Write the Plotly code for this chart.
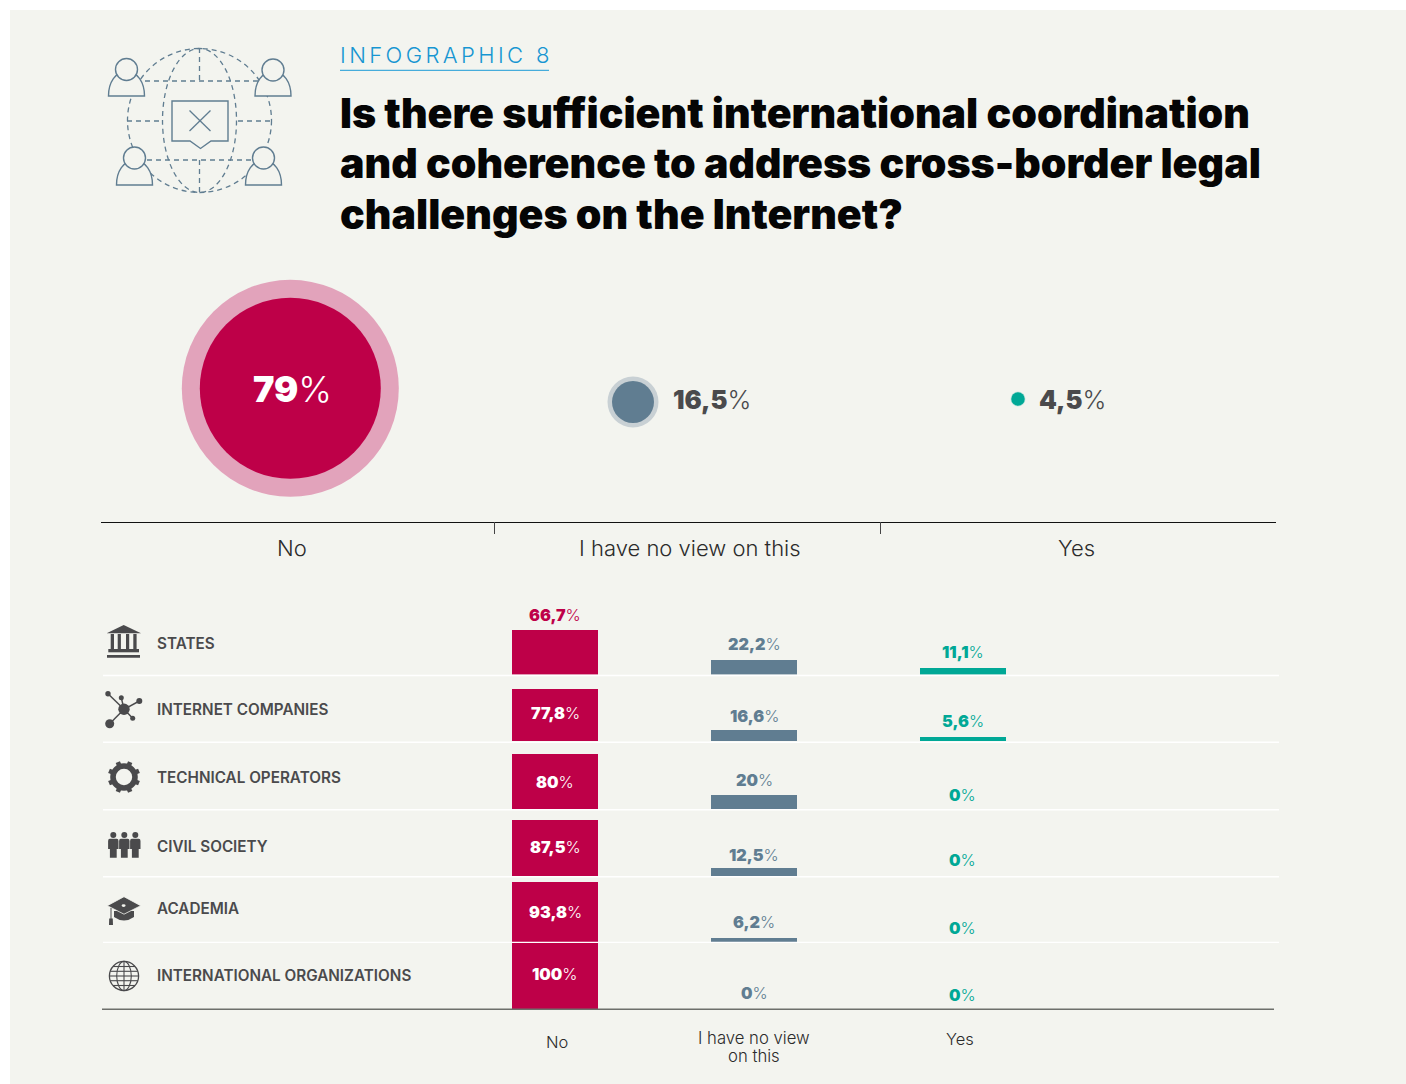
import numpy as np
import plotly.graph_objects as go

# ---- data -------------------------------------------------------------
answers = ["No", "I have no view on this", "Yes"]
overall = [79, 16.5, 4.5]
overall_labels = ["79", "16,5", "4,5"]
stakeholders = ["STATES", "INTERNET COMPANIES", "TECHNICAL OPERATORS",
                "CIVIL SOCIETY", "ACADEMIA", "INTERNATIONAL ORGANIZATIONS"]
no_values = [66.7, 77.8, 80, 87.5, 93.8, 100]
no_view_values = [22.2, 16.6, 20, 12.5, 6.2, 0]
yes_values = [11.1, 5.6, 0, 0, 0, 0]
no_labels = ["66,7", "77,8", "80", "87,5", "93,8", "100"]
no_view_labels = ["22,2", "16,6", "20", "12,5", "6,2", "0"]
yes_labels = ["11,1", "5,6", "0", "0", "0", "0"]
title_lines = ["Is there sufficient international coordination",
               "and coherence to address cross-border legal",
               "challenges on the Internet?"]

# ---- style and layout --------------------------------------------------
W, H = 1406, 1084
PANEL = "#f3f4ef"
RED, BLUE, GREEN = "#be0048", "#607d91", "#00a896"
DARK = "#4a4a4c"
INK = "#2b2b2b"
HEAVY = "Inter"
LIGHT = "Inter"
column_edges = [(512, 598), (711, 797), (920, 1006)]
column_colors = [RED, BLUE, GREEN]
row_baselines = [674.5, 741, 809, 876, 942, 1009]
row_heights = [67, 66.8, 68.75, 64, 64, 66]       # pixels spanned by 100 %
row_text_y = [643, 709, 777, 846, 908, 975]
separators_y = [675.5, 742.3, 809.7, 876.8, 942.4]
label_lift = [[15, -24, -28, -27, -30, -31],      # label centre relative to bar top
              [16, 14, 15, 13, 16, 16],
              [15, 16, 14, 16, 14, 14]]
bubble_centres = [(290.3, 388.3), (633, 402), (1018, 399)]
bubble_sizes = [181, 42, 13.5]
halo_sizes = [217, 51, 15]
halo_colors = ["#e2a3bb", "#c8d0d4", "#c5e6df"]
INSET = 2  # annotation box padding plus border, taken off left-aligned text

fig = go.Figure()
shapes, notes = [], []
layout_axes = {}

# Full-figure pixel canvas used for text, rules and pictograms.
layout_axes["xaxis"] = dict(domain=[0, 1], range=[0, W], visible=False, fixedrange=True)
layout_axes["yaxis"] = dict(domain=[0, 1], range=[H, 0], visible=False, fixedrange=True)


def text(x, y, s, size, color=INK, anchor="left", weight=400, family=LIGHT):
    notes.append(dict(x=x - INSET if anchor == "left" else x, y=y, xref="x", yref="y", text=s, showarrow=False,
                      xanchor=anchor, yanchor="middle", align=anchor,
                      font=dict(size=size, color=color, family=family, weight=weight)))


def pct(number):
    return f'<span style="font-weight:900">{number}</span>%'


def line(x0, y0, x1, y1, color, width=1.0, dash=None, layer="below"):
    shapes.append(dict(type="line", xref="x", yref="y", x0=x0, y0=y0, x1=x1, y1=y1, layer=layer,
                       line=dict(color=color, width=width, dash=dash)))


def ellipse(cx, cy, rx, ry, fill=None, color=None, width=0.0, dash=None):
    shapes.append(dict(type="circle", xref="x", yref="y", layer="below",
                       x0=cx - rx, x1=cx + rx, y0=cy - ry, y1=cy + ry,
                       fillcolor=fill or "rgba(0,0,0,0)",
                       line=dict(color=color or "rgba(0,0,0,0)", width=width, dash=dash)))


def path(d, fill=None, color=None, width=0.0):
    shapes.append(dict(type="path", xref="x", yref="y", layer="below", path=d,
                       fillcolor=fill or "rgba(0,0,0,0)",
                       line=dict(color=color or "rgba(0,0,0,0)", width=width)))


# Panel behind everything
shapes.append(dict(type="rect", xref="paper", yref="paper", x0=10 / W, x1=1, y0=0, y1=1 - 10 / H,
                   fillcolor=PANEL, line=dict(width=0), layer="below"))

# ---- one x axis per answer column, one y axis per stakeholder row ------
col_axes = []
for c, (x0, x1) in enumerate(column_edges):
    key = c + 2
    layout_axes[f"xaxis{key}"] = dict(domain=[x0 / W, x1 / W], type="category",
                                      categoryorder="array", categoryarray=[answers[c]], range=[-0.5, 0.5],
                                      visible=False, fixedrange=True, anchor=f"y{2}")
    col_axes.append(f"x{key}")
row_axes = []
for r, (base, span) in enumerate(zip(row_baselines, row_heights)):
    key = r + 2
    low = (H - base) / H
    layout_axes[f"yaxis{key}"] = dict(domain=[low, low + span / H], range=[0, 100],
                                      visible=False, fixedrange=True, anchor="x2")
    row_axes.append(f"y{key}")

series = [no_values, no_view_values, yes_values]
series_labels = [no_labels, no_view_labels, yes_labels]
for c, (values, labels) in enumerate(zip(series, series_labels)):
    for r, who in enumerate(stakeholders):
        fig.add_trace(go.Bar(x=[answers[c]], y=[values[r]], name=who, xaxis=col_axes[c], yaxis=row_axes[r],
                             width=1, marker=dict(color=column_colors[c], line=dict(width=0))))
        inside = c == 0 and r > 0
        notes.append(dict(x=answers[c], y=values[r], xref=col_axes[c], yref=row_axes[r],
                          text=pct(labels[r]), showarrow=False, yshift=label_lift[c][r],
                          xanchor="center", yanchor="middle",
                          font=dict(size=16.2, family=HEAVY, weight=300,
                                    color="white" if inside else column_colors[c])))

# ---- overall result bubbles ------------------------------------------
for i, (cx, cy) in enumerate(bubble_centres):
    xkey, ykey = i + 8, i + 8
    half = 130
    layout_axes[f"xaxis{xkey}"] = dict(domain=[(cx - half) / W, (cx + half) / W], type="category",
                                       categoryorder="array", categoryarray=[answers[i]], range=[-0.5, 0.5],
                                       visible=False, fixedrange=True, anchor=f"y{ykey}")
    layout_axes[f"yaxis{ykey}"] = dict(domain=[(H - cy - half) / H, (H - cy + half) / H], range=[-1, 1],
                                       visible=False, fixedrange=True, anchor=f"x{xkey}")
    fig.add_trace(go.Scatter(x=[answers[i]], y=[0], mode="markers", xaxis=f"x{xkey}", yaxis=f"y{ykey}",
                             customdata=[overall[i]], cliponaxis=False, hoverinfo="skip",
                             marker=dict(size=halo_sizes[i], color=halo_colors[i], line=dict(width=0))))
    fig.add_trace(go.Scatter(x=[answers[i]], y=[0], mode="markers", xaxis=f"x{xkey}", yaxis=f"y{ykey}",
                             customdata=[overall[i]], cliponaxis=False, name=answers[i],
                             marker=dict(size=bubble_sizes[i], color=column_colors[i], line=dict(width=0))))

text(292.5, 388.5, pct(overall_labels[0]), 36, "white", "center", 300, HEAVY)
text(673, 399, pct(overall_labels[1]), 25.5, DARK, "left", 300, HEAVY)
text(1039, 399, pct(overall_labels[2]), 25.5, DARK, "left", 300, HEAVY)

# ---- heading ----------------------------------------------------------
notes.append(dict(x=340 - INSET, y=55, xref="x", yref="y", showarrow=False, xanchor="left", yanchor="middle",
                  text='<span style="letter-spacing:3.4px">INFOGRAPHIC 8</span>',
                  font=dict(size=22, color="#1796d2", family=LIGHT, weight=300)))
line(340, 70.3, 549, 70.3, "#1a9ad6", 1)
for y, s in zip([112.5, 163, 214], title_lines):
    text(340, y, s, 41.1, "#050505", "left", 900, HEAVY)

# ---- header rule and its captions --------------------------------------
line(101, 522.5, 1276, 522.5, "#111111", 1.2)
line(494.5, 522, 494.5, 534, "#444444", 1)
line(880.5, 522, 880.5, 534, "#444444", 1)
for x, s in zip([292, 689.5, 1076.5], answers):
    text(x, 548, s, 22, INK, "center", 300)

# ---- table rows -----------------------------------------------------------
for y in separators_y:
    line(103, y, 1279, y, "#ffffff", 1.4, layer="above")
line(102, 1009.2, 1274, 1009.2, "#6d6f6b", 1.4, layer="above")
for y, s in zip(row_text_y, stakeholders):
    text(157, y, s, 15.25, DARK, "left", 600)

text(557, 1042, answers[0], 16.5, INK, "center", 300)
text(754, 1038, "I have no view", 16.7, INK, "center", 300)
text(754, 1056, "on this", 16.7, INK, "center", 300)
text(960, 1039, answers[2], 16.5, INK, "center", 300)

# ---- pictogram: dashed globe with four people and a crossed-out speech box ----
ICON = "#607d91"
DASH = "5px,4px"
ellipse(199.5, 120.5, 72, 72, color=ICON, width=1.3, dash=DASH)
ellipse(199.5, 120.5, 37, 72, color=ICON, width=1.3, dash=DASH)
line(199.5, 48, 199.5, 81, ICON, 1.3, DASH)
line(199.5, 160, 199.5, 192, ICON, 1.3, DASH)
line(145, 81, 258, 81, ICON, 1.3, DASH)
line(147, 160, 253, 160, ICON, 1.3, DASH)
line(127, 121, 163, 121, ICON, 1.3, DASH)
line(238, 121, 272, 121, ICON, 1.3, DASH)
path("M172,101 L228,101 L228,141 L211,141 L200.5,148.5 L190,141 L172,141 Z", PANEL, ICON, 1.4)
line(189.5, 110.5, 210.5, 131, ICON, 1.3)
line(210.5, 110.5, 189.5, 131, ICON, 1.3)
for xc, yh, bottom, half in [(126.5, 69.5, 96, 18), (273, 70, 96, 18), (134.5, 158, 185, 18), (263.5, 158, 185, 18)]:
    x0, x1 = xc - half, xc + half
    path(f"M{x0},{bottom} L{x1},{bottom} C{x1},{bottom - 14} {x1 - 7},{bottom - 24} {xc},{bottom - 25} "
         f"C{x0 + 7},{bottom - 24} {x0},{bottom - 14} {x0},{bottom} Z", PANEL, ICON, 1.4)
    ellipse(xc, yh, 11, 11, PANEL, ICON, 1.4)

# States: classical building
path("M123.7,625 L141,633.3 L106.7,633.3 Z", DARK)
for a, b in [(110.7, 114), (117.7, 120.9), (126, 129.2), (133.3, 136.6)]:
    path(f"M{a},634 L{b},634 L{b},649 L{a},649 Z", DARK)
path("M108.3,649 L139,649 L139,652.3 L108.3,652.3 Z", DARK)
path("M107,655 L140,655 L140,657.8 L107,657.8 Z", DARK)

# Internet companies: hub and nodes
hub = (124, 709.3)
for nx, ny, nr in [(108, 693.7, 2.7), (121.3, 697.7, 2.5), (139.3, 701, 3), (132.7, 718.3, 2.5), (109.7, 723.7, 4.5)]:
    line(hub[0], hub[1], nx, ny, DARK, 1.5)
    ellipse(nx, ny, nr, nr, DARK)
ellipse(hub[0], hub[1], 5.7, 5.7, DARK)

# Technical operators: cog wheel
gear = (124, 777)
ellipse(gear[0], gear[1], 11, 11, None, DARK, 5.6)
for a in np.deg2rad(np.arange(0, 360, 45) + 22.5):
    line(gear[0] + 12.5 * np.cos(a), gear[1] + 12.5 * np.sin(a), gear[0] + 16.2 * np.cos(a), gear[1] + 16.2 * np.sin(a), DARK, 4.6)

# Civil society: three standing figures
for xc in [113.3, 124.3, 135.3]:
    ellipse(xc, 835, 3, 3, DARK)
    path(f"M{xc - 3.5},838.8 L{xc + 3.5},838.8 Q{xc + 5.2},838.8 {xc + 5.2},841 L{xc + 5.2},849 L{xc + 3.4},849 "
         f"L{xc + 3.4},857.7 L{xc - 3.4},857.7 L{xc - 3.4},849 L{xc - 5.2},849 L{xc - 5.2},841 Q{xc - 5.2},838.8 {xc - 3.5},838.8 Z", DARK)

# Academia: mortarboard
path("M114,911 L134,911 L134,917 Q124,924 114,917 Z", DARK)
path("M124,896.7 L140.7,905.7 L124,914.2 L107.3,905.7 Z", DARK, PANEL, 0.8)
ellipse(123.6, 905.6, 2, 1.3, PANEL)
line(111, 908, 111, 920, DARK, 1)
path("M109.2,918.5 L112.8,918.5 L113,925 L109,925 Z", DARK)

# International organizations: wire globe
globe = (124, 976)
ellipse(globe[0], globe[1], 14.6, 14.6, None, DARK, 1.3)
ellipse(globe[0], globe[1], 7.3, 14.6, None, DARK, 1.1)
line(globe[0], 961.5, globe[0], 990.5, DARK, 1.1)
for dy, half in [(-9.5, 11), (-4.7, 13.8), (0, 14.6), (4.7, 13.8), (9.5, 11)]:
    line(globe[0] - half, globe[1] + dy, globe[0] + half, globe[1] + dy, DARK, 1.1)

fig.add_trace(go.Scatter(x=[0], y=[0], xaxis="x", yaxis="y", mode="markers",
                         marker=dict(size=1, opacity=0), hoverinfo="skip"))

fig.update_layout(width=W, height=H, autosize=False, margin=dict(l=0, r=0, t=0, b=0, pad=0),
                  paper_bgcolor="white", plot_bgcolor="rgba(0,0,0,0)", showlegend=False,
                  bargap=0, barmode="overlay", shapes=shapes, annotations=notes,
                  font=dict(family=LIGHT), **layout_axes)
fig.write_html("out.html", config=dict(displayModeBar=False))
